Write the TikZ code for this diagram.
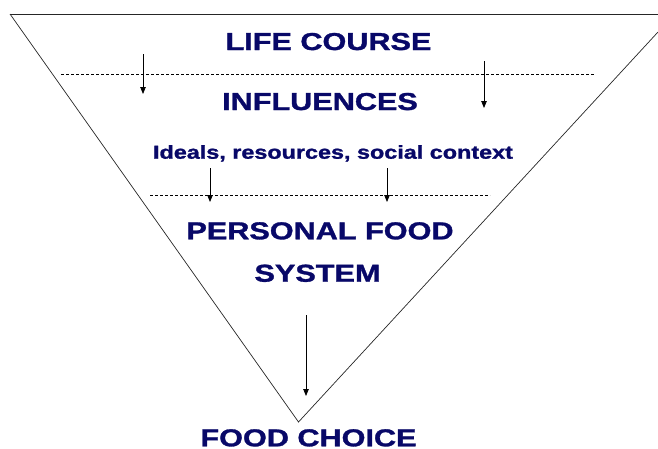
\documentclass[tikz,border=0pt]{standalone}
\usepackage{fontspec}
\setmainfont{Liberation Sans}[BoldFeatures={FakeBold=1.2}]
\usetikzlibrary{arrows.meta}
\definecolor{navy}{RGB}{8,8,104}
\newcommand{\stretchtxt}[1]{\scalebox{1.25}[1]{#1}}
\begin{document}
\begin{tikzpicture}[x=1pt,y=-1pt,
  edge/.style={line width=0.7pt,draw=black!85},
  sep/.style={line width=0.6pt,dash pattern=on 3pt off 2pt},
  down/.style={line width=0.8pt,-{Triangle[length=7pt,width=5.5pt]}},
  big/.style={anchor=base,inner sep=0pt,text=navy,font=\fontsize{24.5}{24.5}\selectfont\bfseries},
  small/.style={anchor=base,inner sep=0pt,text=navy,font=\fontsize{18.7}{18.7}\selectfont\bfseries}]
\useasboundingbox (0,0) rectangle (658,448);
% funnel
\coordinate (tl) at (10,14);
\coordinate (tr) at (658,14);
\coordinate (re) at (658,32);
\coordinate (apex) at (298.5,422);
\draw[edge] (tl) -- (tr);
\draw[edge] (tl) -- (apex) -- (re);
% dashed separators
\coordinate (d1a) at (61,74);
\coordinate (d1b) at (594,74);
\coordinate (d2a) at (150,195);
\coordinate (d2b) at (490,195);
\draw[sep] (d1a) -- (d1b);
\draw[sep] (d2a) -- (d2b);
% texts
\node[big] (life) at (328.5,50) {\stretchtxt{LIFE COURSE}};
\node[big] (infl) at (320,110) {\stretchtxt{INFLUENCES}};
\node[small] (ideals) at (333,158.7) {\stretchtxt{Ideals, resources, social context}};
\node[big] (pers) at (320,239.3) {\stretchtxt{PERSONAL FOOD}};
\node[big] (sys) at (317.5,281.7) {\stretchtxt{SYSTEM}};
\node[big] (choice) at (308.5,446.3) {\stretchtxt{FOOD CHOICE}};
% arrows
\coordinate (a1s) at (143,54);  \coordinate (a1e) at (143,94);
\coordinate (a2s) at (484,61);  \coordinate (a2e) at (484,108);
\coordinate (a3s) at (210,168); \coordinate (a3e) at (210,202);
\coordinate (a4s) at (387,168); \coordinate (a4e) at (387,202);
\coordinate (a5s) at (306,315); \coordinate (a5e) at (306,396);
\draw[down] (a1s) -- (a1e);
\draw[down] (a2s) -- (a2e);
\draw[down] (a3s) -- (a3e);
\draw[down] (a4s) -- (a4e);
\draw[down] (a5s) -- (a5e);
\end{tikzpicture}
\end{document}
